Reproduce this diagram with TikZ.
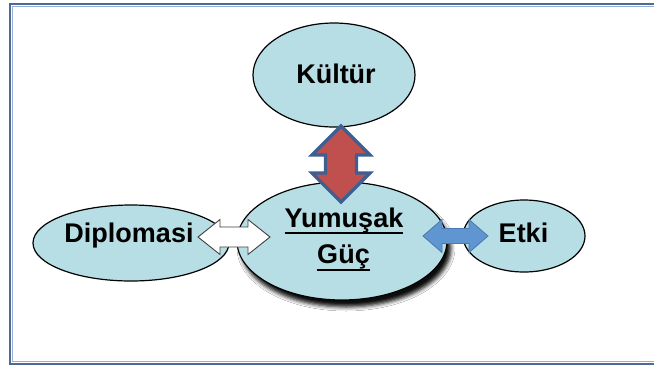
\documentclass[tikz,border=0pt]{standalone}
\usepackage{fontspec}
\setmainfont{Liberation Sans}
\usetikzlibrary{calc,shapes.geometric,shadows.blur}
\definecolor{ellfill}{RGB}{183,222,228}
\definecolor{framedark}{RGB}{79,105,150}
\definecolor{framelight}{RGB}{150,175,210}
\definecolor{redfill}{RGB}{192,80,77}
\definecolor{redline}{RGB}{62,95,145}
\definecolor{bluefill}{RGB}{95,150,210}
\definecolor{blueline}{RGB}{75,120,175}
\tikzset{
  bubble/.style={ellipse, draw=black, line width=1.2pt, fill=ellfill, inner sep=0pt},
  label/.style={font=\bfseries\fontsize{27}{32}\selectfont, inner sep=0pt, anchor=base},
  uline/.style={line width=2.6pt, black},
}
\begin{document}
\begin{tikzpicture}[x=1pt,y=-1pt]
\clip (0,0) rectangle (654,368);
\fill[white] (0,0) rectangle (654,368);
% frame
\draw[framedark, line width=2.2pt] (10,4) rectangle (665,364);
\draw[framelight, line width=1pt] (12.2,6.2) rectangle (663,361.8);
% ellipses
\node[bubble, minimum width=196pt, minimum height=76pt] (dip) at (131,243) {};
\node[bubble, minimum width=122pt, minimum height=72pt] (etk) at (524,236) {};
\node[bubble, minimum width=162pt, minimum height=104pt] (kul) at (334,75) {};
\node[bubble, minimum width=210pt, minimum height=118pt,
  blur shadow={shadow xshift=4pt, shadow yshift=-7pt, shadow blur radius=4pt, shadow opacity=95}] (yum) at (342,241) {};
% texts
\node[label] (tkul) at (336,83) {Kültür};
\node[label] (tdip) at (129,242) {Diplomasi};
\node[label] (tetk) at (523.5,242) {Etki};
\node[label] (tyum) at (344,227) {Yumuşak};
\node[label] (tguc) at (343.5,263) {Güç};
\draw[uline] ([yshift=-6pt]tyum.base west) -- ([yshift=-6pt]tyum.base east);
\draw[uline] ([yshift=-7pt]tguc.base west) -- ([yshift=-7pt]tguc.base east);
% red vertical double arrow
\coordinate (ra) at (341,126);
\coordinate (rb) at (341,202);
\draw[redline, fill=redfill, line width=3.2pt, line join=miter]
  (ra) -- ++(29,29) -- ++(-13.5,0) -- ($(rb)+(15.5,-29)$) -- ++(13.5,0) -- (rb)
  -- ++(-29,-29) -- ++(13.5,0) -- ($(ra)+(-15.5,29)$) -- ++(-13.5,0) -- cycle;
% white double arrow
\coordinate (wa) at (198,237);
\coordinate (wb) at (270,237);
\draw[black!75, fill=white, line width=0.9pt]
  (wa) -- ++(22,-17.5) -- ++(0,7.5) -- ($(wb)+(-22,-10)$) -- ++(0,-7.5) -- (wb)
  -- ++(-22,17.5) -- ++(0,-7.5) -- ($(wa)+(22,10)$) -- ++(0,7.5) -- cycle;
% blue double arrow
\coordinate (ba) at (423,236);
\coordinate (bb) at (488,236);
\draw[blueline, fill=bluefill, line width=0.8pt]
  (ba) -- ++(19,-16.5) -- ++(0,9) -- ($(bb)+(-19,-7.5)$) -- ++(0,-9) -- (bb)
  -- ++(-19,16.5) -- ++(0,-9) -- ($(ba)+(19,7.5)$) -- ++(0,9) -- cycle;
\end{tikzpicture}
\end{document}
